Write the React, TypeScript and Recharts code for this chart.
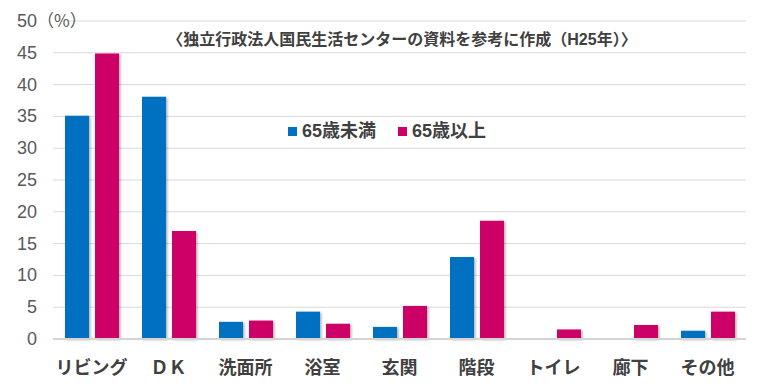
import { Bar, BarChart, CartesianGrid, Rectangle, XAxis, YAxis } from "recharts";

const categories = ["リビング", "ＤＫ", "洗面所", "浴室", "玄関", "階段", "トイレ", "廊下", "その他"];
const under65 = [35.1, 38.1, 2.7, 4.3, 1.9, 12.9, 0, 0, 1.3];
const over65 = [44.9, 17.0, 2.9, 2.4, 5.2, 18.6, 1.5, 2.2, 4.3];
const yTicks = [0, 5, 10, 15, 20, 25, 30, 35, 40, 45, 50];

const BLUE = "#0070C0";
const MAGENTA = "#CC0066";
const FONT = "'Liberation Sans', 'Noto Sans CJK JP', sans-serif";

const data = categories.map((name, i) => ({ name, under: under65[i], over: over65[i] }));

function YTick({ x, y, payload }: { x?: number; y?: number; payload?: { value: number } }) {
  const v = payload?.value ?? 0;
  return (
    <g>
      <text x={(x ?? 0) - 1} y={(y ?? 0) + 6} textAnchor="end" fill="#595959" fontSize={18} fontFamily={FONT}>
        {v}
      </text>
      {v === 50 && (
        <>
          <rect x={(x ?? 0)} y={(y ?? 0) - 10} width={30} height={20} fill="#fff" />
          <text x={(x ?? 0) - 1} y={(y ?? 0) + 6} fill="#595959" fontSize={17} fontFamily="'Noto Sans CJK JP', sans-serif">
            （%）
          </text>
        </>
      )}
    </g>
  );
}

function XTick({ x, y, payload }: { x?: number; y?: number; payload?: { value: string } }) {
  return (
    <text x={x} y={(y ?? 0) + 27} textAnchor="middle" fill="#404040" fontSize={18} fontWeight="bold" fontFamily={FONT}>
      {payload?.value}
    </text>
  );
}

const shadowBar = (props: any) => <Rectangle {...props} filter="url(#barShadow)" />;

export default function App() {
  return (
    <div style={{ position: "absolute", left: 0, top: 0, width: 773, height: 392, background: "#fff" }}>
      <BarChart
        width={773}
        height={392}
        data={data}
        margin={{ top: 21, right: 27, left: 0, bottom: 0 }}
        barSize={24}
        barGap={6}
      >
        <defs>
          <filter id="barShadow" x="-20%" y="-20%" width="150%" height="150%">
            <feDropShadow dx="1.5" dy="1" stdDeviation="1.2" floodColor="#000" floodOpacity="0.3" />
          </filter>
        </defs>
        <CartesianGrid vertical={false} stroke="#d9d9d9" />
        <XAxis
          dataKey="name"
          height={53}
          tick={<XTick />}
          tickLine={false}
          axisLine={{ stroke: "#d4d4d4", strokeWidth: 2 }}
          interval={0}
        />
        <YAxis
          width={53}
          domain={[0, 50]}
          ticks={yTicks}
          tick={<YTick />}
          tickLine={false}
          tickSize={0}
          tickMargin={15}
          axisLine={false}
          interval={0}
        />
        <Bar dataKey="under" fill={BLUE} isAnimationActive={false} shape={shadowBar} />
        <Bar dataKey="over" fill={MAGENTA} isAnimationActive={false} shape={shadowBar} />
      </BarChart>
      <div
        style={{
          position: "absolute",
          left: 0,
          width: 804,
          top: 29,
          textAlign: "center",
          fontFamily: FONT,
          fontSize: 16,
          fontWeight: "bold",
          color: "#404040",
          lineHeight: "22px",
        }}
      >
        〈独立行政法人国民生活センターの資料を参考に作成（H25年）〉
      </div>
      <div
        style={{
          position: "absolute",
          left: 288,
          top: 119,
          display: "flex",
          alignItems: "center",
          fontFamily: FONT,
          fontSize: 18,
          fontWeight: "bold",
          color: "#404040",
          lineHeight: "24px",
        }}
      >
        <span style={{ display: "inline-block", width: 9, height: 9, background: BLUE, marginRight: 5 }} />
        <span>65歳未満</span>
        <span style={{ display: "inline-block", width: 9, height: 9, background: MAGENTA, marginLeft: 22, marginRight: 5 }} />
        <span>65歳以上</span>
      </div>
    </div>
  );
}
